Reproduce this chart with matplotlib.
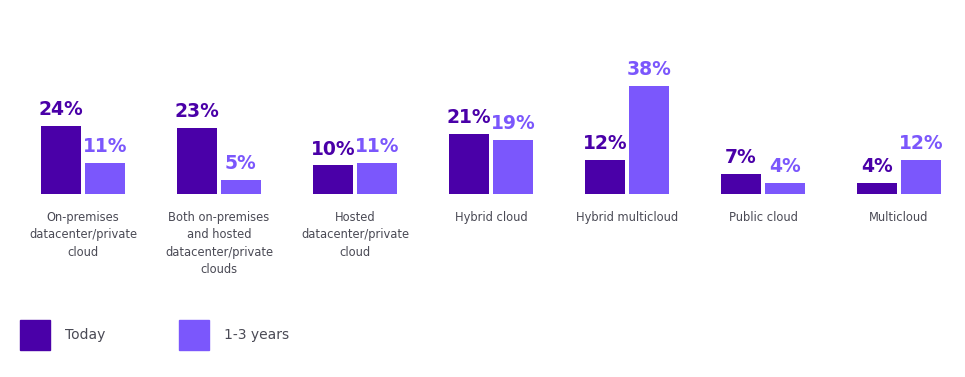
import matplotlib.pyplot as plt
from matplotlib.patches import Patch

# Datos
categorias = ["On-premises\ndatacenter/private\ncloud",
              "Both on-premises\nand hosted\ndatacenter/private\nclouds",
              "Hosted\ndatacenter/private\ncloud",
              "Hybrid cloud",
              "Hybrid multicloud",
              "Public cloud",
              "Multicloud"]
hoy = [24, 23, 10, 21, 12, 7, 4]
futuro = [11, 5, 11, 19, 38, 4, 12]
series = ["Today", "1-3 years"]

colorHoy = "#4A00A8"
colorFuturo = "#7B57FC"
colorTexto = "#4a4a55"

fig = plt.figure(figsize=(9.65, 3.77), dpi=100)
ax = fig.add_axes([0, 183 / 377, 1, 194 / 377])

x = list(range(len(categorias)))
ancho = 0.294
desp = 0.161

barrasHoy = ax.bar([i - desp for i in x], hoy, width=ancho, color=colorHoy)
barrasFut = ax.bar([i + desp for i in x], futuro, width=ancho, color=colorFuturo)

for barras, valores, col in [(barrasHoy, hoy, colorHoy), (barrasFut, futuro, colorFuturo)]:
    for b, v in zip(barras, valores):
        ax.annotate(f"{v}%", (b.get_x() + b.get_width() / 2, b.get_height()),
                    xytext=(0, 5), textcoords="offset points",
                    ha="center", va="bottom", fontsize=13.5, fontweight="bold",
                    color=col, family="DejaVu Sans")

for i, c in zip(x, categorias):
    ax.annotate(c, (i, 0), xytext=(0, -12), textcoords="offset points",
                ha="center", va="top", fontsize=8.3, color=colorTexto,
                linespacing=1.45, family="DejaVu Sans")

ax.set_xlim(-83 / 136, 882 / 136)
ax.set_ylim(0, 68)
ax.axis("off")

manejadores = [Patch(color=colorHoy), Patch(color=colorFuturo)]
fig.legend(manejadores, series, loc="center left", bbox_to_anchor=(0.008, 1 - 335 / 377),
           ncol=2, frameon=False, fontsize=10, handlelength=2.16, handleheight=2.95,
           handletextpad=1.08, columnspacing=5.3, labelcolor=colorTexto)

fig.savefig("out.png", dpi=100)
